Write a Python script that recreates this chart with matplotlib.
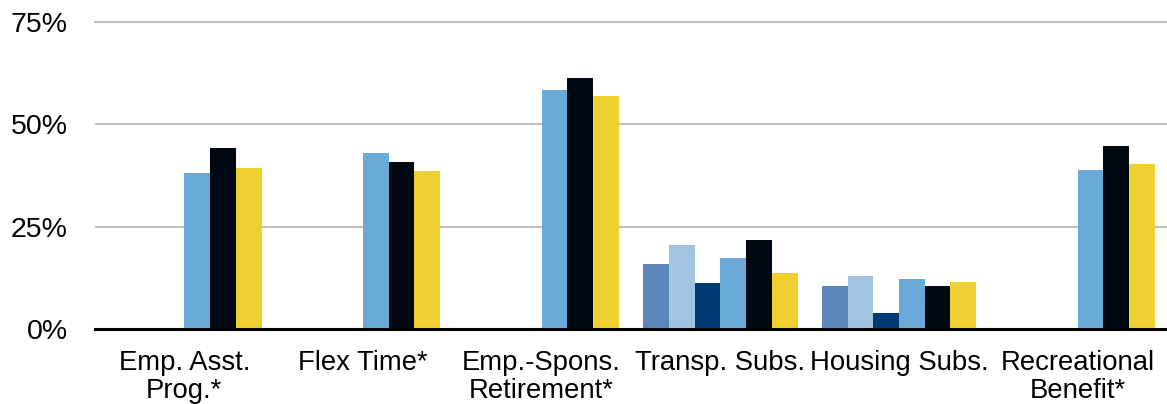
import matplotlib.pyplot as plt
import numpy as np

plt.rcParams['font.family'] = ['Liberation Sans', 'DejaVu Sans']

categories = ['Emp. Asst.\nProg.*', 'Flex Time*', 'Emp.-Spons.\nRetirement*',
              'Transp. Subs.', 'Housing Subs.', 'Recreational\nBenefit*']

# six series per benefit; the first three were not asked for every benefit
s1 = [np.nan, np.nan, np.nan, 16.0, 10.6, np.nan]
s2 = [np.nan, np.nan, np.nan, 20.4, 13.0, np.nan]
s3 = [np.nan, np.nan, np.nan, 11.3, 4.0, np.nan]
s4 = [38.0, 43.1, 58.3, 17.4, 12.3, 38.9]
s5 = [44.1, 40.7, 61.4, 21.8, 10.6, 44.8]
s6 = [39.4, 38.6, 56.8, 13.8, 11.6, 40.3]

series = [s1, s2, s3, s4, s5, s6]
colors = ['#5B87BA', '#A3C4E1', '#003A75', '#6AAAD9', '#000812', '#F0D030']

fig = plt.figure(figsize=(11.67, 4.04), dpi=100)
ax = fig.add_axes([95 / 1167, 1 - 329 / 404, 1 - 95 / 1167, (329 - 22) / 404])

x = np.arange(len(categories))
w = 0.144
for i, (vals, c) in enumerate(zip(series, colors)):
    ax.bar(x + (i - 2.5) * w, vals, width=w, color=c, zorder=3)

ax.set_xlim(-0.5, len(categories) - 0.5)
ax.set_ylim(0, 75)
ax.set_yticks([0, 25, 50, 75])
ax.set_yticklabels(['0%', '25%', '50%', '75%'], fontsize=20.5)
ax.yaxis.grid(True, color='#BFBFBF', linewidth=1.5, zorder=0)
ax.set_xticks(x)
ax.set_xticklabels(categories, fontsize=19.8, linespacing=1.13)
ax.tick_params(axis='both', length=0)
ax.tick_params(axis='y', pad=19.5)
ax.tick_params(axis='x', pad=15)

for side in ['top', 'left', 'right']:
    ax.spines[side].set_visible(False)
ax.spines['bottom'].set_linewidth(2.2)
ax.spines['bottom'].set_zorder(4)
for lbl in ax.get_yticklabels():
    lbl.set_clip_on(False)
ax.yaxis.get_gridlines()[-1].set_clip_on(False)

fig.savefig('out.png', dpi=100)
